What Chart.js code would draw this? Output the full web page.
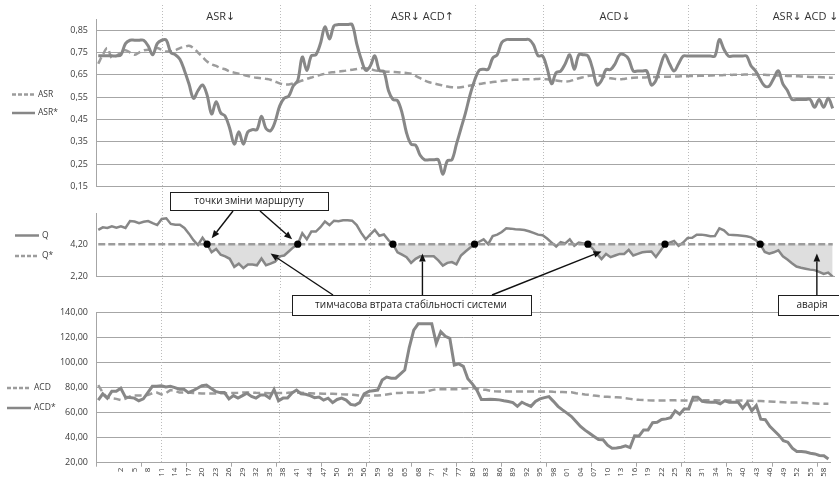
<!DOCTYPE html>
<html lang="uk">
<head>
<meta charset="utf-8">
<title>ASR / Q / ACD</title>
<script src="https://cdn.jsdelivr.net/npm/chart.js@4/dist/chart.umd.min.js"></script>
<style>
  html, body { margin: 0; background: #fff; }
  #board { position: relative; width: 839px; height: 480px; overflow: hidden; }
  #board canvas { position: absolute; left: 0; }
  #overlay { top: 0; pointer-events: none; }
</style>
</head>
<body>
<div id="board">
  <canvas id="asrChart" width="839" height="200" style="top:0"></canvas>
  <canvas id="qChart" width="839" height="90" style="top:200px"></canvas>
  <canvas id="acdChart" width="839" height="190" style="top:290px"></canvas>
  <canvas id="overlay" width="839" height="480"></canvas>
</div>
<script>
// time steps: 163 slots, the first four carry no step number
const stepLabels = [];
for (let i = 0; i < 163; i++) stepLabels.push(i < 4 ? "" : String(i - 3));

const asrTicks = [0.15, 0.25, 0.35, 0.45, 0.55, 0.65, 0.75, 0.85];
const qTicks = [2.2, 4.2];
const acdTicks = [20, 40, 60, 80, 100, 120, 140];

const asr = [
  0.70, 0.74, 0.77, 0.725, 0.735, 0.75, 0.76, 0.75, 0.74, 0.75,
  0.76, 0.762, 0.765, 0.77, 0.762, 0.755, 0.755, 0.76, 0.77, 0.775,
  0.78, 0.77, 0.75, 0.73, 0.71, 0.697, 0.69, 0.68, 0.675, 0.665,
  0.66, 0.655, 0.65, 0.645, 0.64, 0.637, 0.635, 0.632, 0.628, 0.62,
  0.612, 0.607, 0.607, 0.612, 0.617, 0.625, 0.632, 0.638, 0.645, 0.65,
  0.655, 0.66, 0.662, 0.665, 0.667, 0.67, 0.673, 0.676, 0.68, 0.68,
  0.676, 0.67, 0.668, 0.665, 0.664, 0.663, 0.662, 0.66, 0.658, 0.655,
  0.645, 0.635, 0.625, 0.617, 0.612, 0.607, 0.603, 0.598, 0.595, 0.594,
  0.595, 0.598, 0.602, 0.606, 0.609, 0.612, 0.615, 0.618, 0.62, 0.623,
  0.625, 0.627, 0.628, 0.629, 0.63, 0.63, 0.63, 0.632, 0.632, 0.63,
  0.628, 0.625, 0.622, 0.62, 0.622, 0.628, 0.635, 0.64, 0.645, 0.647,
  0.648, 0.645, 0.64, 0.635, 0.632, 0.63, 0.632, 0.635, 0.637, 0.638,
  0.638, 0.639, 0.64, 0.64, 0.641, 0.642, 0.642, 0.643, 0.643, 0.644,
  0.644, 0.645, 0.645, 0.646, 0.646, 0.647, 0.648, 0.648, 0.649, 0.65,
  0.65, 0.651, 0.651, 0.652, 0.652, 0.652, 0.651, 0.65, 0.649, 0.648,
  0.647, 0.646, 0.645, 0.645, 0.644, 0.643, 0.642, 0.641, 0.64, 0.64,
  0.639, 0.638, 0.637
];
const asrStar = [
  0.735, 0.735, 0.735, 0.735, 0.735, 0.74, 0.79, 0.805, 0.805, 0.805,
  0.805, 0.78, 0.74, 0.79, 0.805, 0.805, 0.75, 0.74, 0.72, 0.67,
  0.61, 0.545, 0.58, 0.605, 0.56, 0.475, 0.53, 0.48, 0.465, 0.41,
  0.34, 0.395, 0.34, 0.395, 0.405, 0.405, 0.465, 0.41, 0.40, 0.44,
  0.51, 0.545, 0.555, 0.60, 0.625, 0.73, 0.67, 0.735, 0.74, 0.79,
  0.865, 0.81, 0.87, 0.875, 0.875, 0.875, 0.875, 0.79, 0.72, 0.67,
  0.69, 0.735, 0.67, 0.665, 0.58, 0.54, 0.535, 0.48, 0.39, 0.34,
  0.335, 0.29, 0.27, 0.27, 0.27, 0.27, 0.205, 0.265, 0.27, 0.34,
  0.41, 0.48, 0.56, 0.625, 0.67, 0.675, 0.675, 0.725, 0.74, 0.795,
  0.808, 0.808, 0.808, 0.808, 0.808, 0.808, 0.785, 0.735, 0.735, 0.68,
  0.61, 0.66, 0.667, 0.70, 0.74, 0.675, 0.74, 0.74, 0.735, 0.68,
  0.605, 0.625, 0.674, 0.674, 0.70, 0.74, 0.74, 0.72, 0.667, 0.667,
  0.667, 0.667, 0.605, 0.625, 0.69, 0.74, 0.70, 0.667, 0.70, 0.734,
  0.734, 0.734, 0.734, 0.734, 0.734, 0.734, 0.734, 0.808, 0.765, 0.734,
  0.734, 0.734, 0.734, 0.734, 0.69, 0.667, 0.63, 0.60, 0.60, 0.635,
  0.668, 0.61, 0.58, 0.54, 0.54, 0.54, 0.54, 0.54, 0.505, 0.54,
  0.505, 0.545, 0.50
];

const qStar = 4.2;
const q = [
  5.08, 5.24, 5.2, 5.3, 5.22, 5.3, 5.2, 5.63, 5.6, 5.5,
  5.58, 5.63, 5.5, 5.38, 5.76, 5.8, 5.45, 5.4, 5.4, 5.2,
  4.85, 4.45, 4.15, 4.6, 4.2, 3.7, 3.9, 3.55, 3.45, 3.3,
  2.8, 3.0, 2.72, 2.95, 2.95, 2.9, 3.32, 2.9, 3.0, 3.12,
  3.45, 3.5, 3.75, 4.0, 4.2, 4.88, 4.5, 4.98, 4.98, 5.25,
  5.6, 5.38, 5.65, 5.62, 5.67, 5.67, 5.65, 5.38, 4.9, 4.5,
  4.8, 5.08, 4.72, 4.8, 4.45, 4.2, 3.7, 3.55, 3.4, 3.05,
  3.3, 3.45, 3.45, 3.45, 3.45, 3.2, 2.88, 3.05, 3.1, 2.96,
  3.5, 3.75, 3.98, 4.2, 4.35, 4.5, 4.2, 4.7, 4.79, 4.95,
  5.18, 5.16, 5.12, 5.1, 5.08, 5.0, 4.9, 4.79, 4.75, 4.55,
  4.3, 4.06, 4.33, 4.25, 4.5, 4.1, 4.3, 4.25, 4.2, 3.95,
  3.6, 3.28, 3.6, 3.4, 3.5, 3.6, 3.6, 3.85, 3.5, 3.6,
  3.7, 3.73, 3.75, 3.41, 3.8, 4.2, 4.3, 4.4, 4.1, 4.3,
  4.59, 4.6, 4.79, 4.79, 4.75, 4.69, 4.7, 5.18, 5.05, 4.79,
  4.77, 4.75, 4.72, 4.69, 4.62, 4.45, 4.2, 3.72, 3.62, 3.7,
  3.82, 3.45, 3.25, 3.02, 2.82, 2.75, 2.69, 2.63, 2.6, 2.49,
  2.36, 2.45, 2.2
];
// slots where Q crosses Q* (route change points)
const routeChangeIdx = [24, 44, 65, 83, 108, 125, 146];

const acd = [
  82, 76, 72, 71.5, 71, 70, 71, 73, 73.6, 73.6,
  73.6, 74, 75.5, 76, 74.5, 75.5, 78, 77.5, 76, 76,
  76, 75.7, 75.5, 75.3, 75.2, 75.2, 75.3, 75.5, 75.5, 75.6,
  75.7, 75.8, 76, 76, 76, 75.8, 75.7, 75.6, 75.5, 75.5,
  75.6, 75.7, 75.8, 76, 76, 75.8, 75.6, 75.5, 75.3, 75.2,
  75, 75, 75, 74.8, 74.6, 74.5, 74.3, 74, 73.6, 73.6,
  73.6, 73.6, 73.6, 74, 74.5, 75, 75.7, 75.7, 76, 76,
  76, 76, 76, 77, 78, 78.7, 78.7, 78.7, 78.7, 78.7,
  78.7, 79.2, 79.5, 79.5, 79.5, 78.5, 78.2, 77.5, 77, 76.8,
  76.8, 76.8, 76.8, 76.8, 76.8, 76.8, 76.8, 76.8, 76.8, 76.8,
  76.8, 76.6, 76.5, 76.4, 76.3, 76.2, 75.5, 75, 74.5, 74.2,
  73.6, 73.2, 72.8, 72.6, 72.4, 72.2, 72, 71.5, 71, 70.5,
  70.2, 70, 69.8, 69.7, 69.7, 69.7, 69.8, 69.9, 69.8, 69.7,
  69.7, 69.7, 69.7, 69.8, 69.9, 69.9, 69.8, 69.8, 69.7, 69.7,
  69.7, 69.7, 69.7, 69.6, 69.5, 69.4, 69.3, 69.2, 69.1, 68.9,
  68.7, 68.5, 68.3, 68.1, 68, 68, 67.9, 67.7, 67.5, 67.3,
  67.1, 67, 67
];
const acdStar = [
  70, 75, 71.5, 77, 77, 79.5, 72.5, 72, 71.6, 69.5,
  71, 76, 81, 81, 81.5, 80.5, 81, 80, 78.7, 78.7,
  76, 77.5, 79.5, 81.5, 82, 79.5, 77, 76, 76, 71,
  73.6, 71.6, 73.6, 75.5, 73, 71.6, 74, 74, 71.6, 78.5,
  69.5, 71.6, 71.6, 75.7, 78, 75, 74.7, 73.6, 72, 72.5,
  70, 71.5, 68, 70.5, 71.6, 70, 66.6, 66, 68, 75,
  77, 77.5, 78, 86, 88.4, 87.5, 87.5, 90.7, 94, 112,
  126, 131, 131, 131, 131, 115.4, 124.7, 121, 119.4, 98,
  99, 97, 87, 83, 78, 70.5, 70.5, 70.7, 70.5, 70.2,
  69.5, 68.9, 68, 65, 68.3, 66.5, 65, 68.9, 71, 72,
  72.8, 69, 65, 62.2, 59.6, 56.9, 53, 49, 46, 43.6,
  41, 38.5, 38.3, 34, 31.6, 31.8, 32.4, 33.5, 32.1, 41.5,
  41.4, 46.2, 46.2, 52, 52.3, 54.5, 55, 56, 61.4, 58.7,
  63, 63, 72.3, 72.3, 69, 68.5, 68.3, 68.5, 67, 69.4,
  68.3, 68.3, 68.3, 63.5, 68, 61.4, 65.7, 54.8, 54.3, 49,
  45.5, 42, 37.5, 36.4, 31.6, 29, 29, 28.5, 27.6, 27,
  25.8, 25.5, 23
];

// phase boundaries (slot index) and captions between them
const phaseBounds = [14, 40, 60, 83, 98, 130, 145];
const phaseCaptions = [
  { text: "ASR↓", from: 14, to: 40 },
  { text: "ASR↓ ACD↑", from: 60, to: 83 },
  { text: "ACD↓", from: 98, to: 130 },
  { text: "ASR↓ ACD ↓", from: 145, to: null }
];

const GRID = "#a6a6a6";
const SOLID = "#878787";
const DASHED = "#9c9c9c";
const INK = "#3c3c3c";
const FONT = '"Open Sans", "DejaVu Sans", sans-serif';

const comma = v => v.toFixed(2).replace(".", ",");

function stepTick(i) {
  const s = stepLabels[i];
  if (!s || (i - 5) % 3 !== 0) return "";
  const n = Number(s);
  return n >= 100 ? String(n % 100).padStart(2, "0") : s;
}

// dotted phase separators, drawn under the lines
const phaseLines = {
  id: "phaseLines",
  beforeDatasetsDraw(chart, args, opts) {
    const { ctx } = chart;
    const x = chart.scales.x;
    const top = opts.top || 0;
    const bottom = opts.toArea ? chart.chartArea.bottom : chart.height;
    ctx.save();
    ctx.strokeStyle = "#bcbcbc";
    ctx.lineWidth = 1;
    ctx.setLineDash([1, 2]);
    phaseBounds.forEach(i => {
      const px = Math.round(x.getPixelForValue(i)) + 0.5;
      ctx.beginPath();
      ctx.moveTo(px, top);
      ctx.lineTo(px, bottom);
      ctx.stroke();
    });
    ctx.restore();
  }
};

function xScale(show) {
  const scale = {
    type: "category",
    offset: true,
    display: show,
    grid: {
      display: show, drawOnChartArea: false, drawTicks: true, tickLength: 4, offset: true,
      color: c => (c.index % 10 === 0 ? GRID : "rgba(0,0,0,0)")
    },
    border: { display: show, color: GRID },
    ticks: {
      autoSkip: false, minRotation: 90, maxRotation: 90, padding: 1,
      color: INK, font: { family: FONT, size: 8 },
      callback: (v, i) => stepTick(i)
    }
  };
  if (show) scale.afterFit = s => { s.height = 17.3; };
  return scale;
}

function yScale(ticks, min, max, gridColor) {
  return {
    min, max,
    afterBuildTicks: s => { s.ticks = ticks.map(v => ({ value: v })); },
    afterFit: s => { s.width = 96; },
    grid: { color: gridColor, lineWidth: 1, drawTicks: false },
    border: { display: true, color: GRID },
    ticks: { color: INK, padding: 8, font: { family: FONT, size: 9 }, callback: v => comma(v) }
  };
}

function panelOptions(x, y, padding, lines) {
  return {
    responsive: false,
    animation: false,
    events: [],
    layout: { padding },
    elements: { point: { radius: 0 } },
    plugins: { legend: { display: false }, tooltip: { enabled: false }, phaseLines: lines },
    scales: { x, y }
  };
}

const asrChart = new Chart(document.getElementById("asrChart"), {
  type: "line",
  data: {
    labels: stepLabels,
    datasets: [
      { label: "ASR*", data: asrStar, borderColor: SOLID, borderWidth: 3, tension: 0.35 },
      { label: "ASR", data: asr, borderColor: DASHED, borderWidth: 2.5, borderDash: [7, 4], tension: 0.35 }
    ]
  },
  options: panelOptions(xScale(false), yScale(asrTicks, 0.15, 0.9, GRID),
    { top: 19, bottom: 13, left: 0, right: 4 }, { top: 5 }),
  plugins: [phaseLines]
});

const qChart = new Chart(document.getElementById("qChart"), {
  type: "line",
  data: {
    labels: stepLabels,
    datasets: [
      {
        label: "route change", data: stepLabels.map((_, i) => (routeChangeIdx.includes(i) ? qStar : null)),
        showLine: false, pointRadius: 3.6, pointBackgroundColor: "#000", pointBorderWidth: 0
      },
      { label: "Q*", data: stepLabels.map(() => qStar), borderColor: DASHED, borderWidth: 2.5, borderDash: [7, 3] },
      {
        label: "Q", data: q, borderColor: SOLID, borderWidth: 2.5,
        fill: { target: { value: qStar }, above: "rgba(0,0,0,0)", below: "#dedede" }
      }
    ]
  },
  options: panelOptions(xScale(false),
    yScale(qTicks, 2.2, 6.1, c => (c.index === 0 ? GRID : "rgba(0,0,0,0)")),
    { top: 11, bottom: 12.7, left: 0, right: 4 }, {}),
  plugins: [phaseLines]
});

const acdChart = new Chart(document.getElementById("acdChart"), {
  type: "line",
  data: {
    labels: stepLabels,
    datasets: [
      { label: "ACD*", data: acdStar, borderColor: SOLID, borderWidth: 3 },
      { label: "ACD", data: acd, borderColor: DASHED, borderWidth: 2.5, borderDash: [7, 4] }
    ]
  },
  options: panelOptions(xScale(true), yScale(acdTicks, 20, 140, GRID),
    { top: 22.5, bottom: 0, left: 0, right: 4 }, { toArea: true }),
  plugins: [phaseLines]
});

// captions, legends, call-out boxes and arrows on top of the three panels
(function drawOverlay() {
  const ctx = document.getElementById("overlay").getContext("2d");
  const ax = asrChart.scales.x;
  const qx = i => qChart.scales.x.getPixelForValue(i);
  const qy = v => 200 + qChart.scales.y.getPixelForValue(v);

  ctx.fillStyle = "#333";
  ctx.font = "11px " + FONT;
  ctx.textBaseline = "middle";
  phaseCaptions.forEach(c => {
    if (c.to === null) {
      ctx.textAlign = "left";
      ctx.fillText(c.text, ax.getPixelForValue(c.from) + 17, 17);
    } else {
      ctx.textAlign = "center";
      ctx.fillText(c.text, (ax.getPixelForValue(c.from) + ax.getPixelForValue(c.to)) / 2, 17);
    }
  });

  function legendItem(y, x0, x1, dashed, text) {
    ctx.save();
    ctx.strokeStyle = dashed ? DASHED : SOLID;
    ctx.lineWidth = 2.5;
    ctx.setLineDash(dashed ? [4, 2] : []);
    ctx.beginPath();
    ctx.moveTo(x0, y);
    ctx.lineTo(x1, y);
    ctx.stroke();
    ctx.restore();
    ctx.fillStyle = INK;
    ctx.font = "8.5px " + FONT;
    ctx.textAlign = "left";
    ctx.textBaseline = "middle";
    ctx.fillText(text, x1 + 3, y);
  }
  legendItem(94.5, 12, 35, true, "ASR");
  legendItem(113, 12, 35, false, "ASR*");
  legendItem(235.5, 15, 39, false, "Q");
  legendItem(256, 15, 39, true, "Q*");
  legendItem(388, 7, 31, true, "ACD");
  legendItem(408, 7, 31, false, "ACD*");

  function box(x, y, w, h, text, tx) {
    ctx.fillStyle = "#fff";
    ctx.fillRect(x, y, w, h);
    ctx.strokeStyle = "#1e1e1e";
    ctx.lineWidth = 1;
    ctx.strokeRect(x + 0.5, y + 0.5, w, h);
    ctx.fillStyle = "#222";
    ctx.font = "10px " + FONT;
    ctx.textAlign = "center";
    ctx.textBaseline = "middle";
    ctx.fillText(text, tx, y + h / 2 + 0.5);
  }

  function arrow(x1, y1, x2, y2) {
    const a = Math.atan2(y2 - y1, x2 - x1);
    const head = 8, half = 3.3;
    const bx = x2 - head * Math.cos(a), by = y2 - head * Math.sin(a);
    ctx.strokeStyle = "#111";
    ctx.fillStyle = "#111";
    ctx.lineWidth = 1.4;
    ctx.beginPath();
    ctx.moveTo(x1, y1);
    ctx.lineTo(bx, by);
    ctx.stroke();
    ctx.beginPath();
    ctx.moveTo(x2, y2);
    ctx.lineTo(bx + half * Math.sin(a), by - half * Math.cos(a));
    ctx.lineTo(bx - half * Math.sin(a), by + half * Math.cos(a));
    ctx.closePath();
    ctx.fill();
  }

  // arrows that stop just short of a route change dot
  function arrowToDot(x1, y1, idx) {
    const dx = qx(idx), dy = qy(qStar);
    const len = Math.hypot(dx - x1, dy - y1);
    const k = (len - 7.5) / len;
    arrow(x1, y1, x1 + (dx - x1) * k, y1 + (dy - y1) * k);
  }

  box(170, 192, 158, 18, "точки зміни маршруту", 249);
  arrowToDot(233, 211, routeChangeIdx[0]);
  arrowToDot(260, 211, routeChangeIdx[1]);

  box(292, 295, 239, 20, "тимчасова втрата стабільності системи", 411);
  arrow(333, 295, qx(38), qy(3.62));
  arrow(qx(71.5), 295, qx(71.5), qy(3.62));
  arrow(492, 295, qx(111), qy(3.75));

  box(778, 295, 70, 20, "аварія", 812);
  arrow(qx(158.5), 295, qx(158.5), qy(3.62));
})();
</script>
</body>
</html>
